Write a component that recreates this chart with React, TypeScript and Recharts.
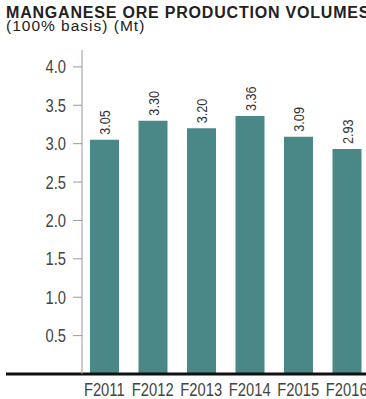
import { BarChart, Bar, XAxis, YAxis, LabelList, ReferenceLine } from "recharts";

const years = ["F2011", "F2012", "F2013", "F2014", "F2015", "F2016"];
const volumes = [3.05, 3.3, 3.2, 3.36, 3.09, 2.93];
const yTicks = [0.5, 1.0, 1.5, 2.0, 2.5, 3.0, 3.5, 4.0];

const data = years.map((year, i) => ({ year, value: volumes[i] }));

const sans = '"Liberation Sans", Arial, sans-serif';
const squeeze = 0.82; // no narrow face installed, so condense by hand
const teal = "#4a8787";

// rotated value label sitting just above each bar
const ValueLabel = (props: any) => {
  const { x, y, width, value } = props;
  const cx = x + width / 2;
  const ty = y - 5;
  return (
    <text
      transform={`translate(${cx}, ${ty}) rotate(-90) scale(${squeeze}, 1)`}
      dy="0.36em"
      textAnchor="start"
      fontFamily={sans}
      fontSize={15.5}
      fill="#333"
    >
      {Number(value).toFixed(2)}
    </text>
  );
};

const YTick = (props: any) => {
  const { x, y, payload } = props;
  return (
    <text
      transform={`translate(${x}, ${y}) scale(${squeeze}, 1)`}
      dy="0.36em"
      textAnchor="end"
      fontFamily={sans}
      fontSize={18}
      fill="#444"
    >
      {Number(payload.value).toFixed(1)}
    </text>
  );
};

const XTick = (props: any) => {
  const { x, y, payload } = props;
  return (
    <text
      transform={`translate(${x}, ${y}) scale(${squeeze}, 1)`}
      dy="0.71em"
      textAnchor="middle"
      fontFamily={sans}
      fontSize={18}
      fill="#444"
    >
      {payload.value}
    </text>
  );
};

// heavy baseline running across the whole figure
const Baseline = (props: any) => {
  const { y1 } = props;
  return <line x1={6} x2={366} y1={y1} y2={y1} stroke="#111" strokeWidth={3} />;
};

const App = () => {
  return (
    <div
      style={{
        position: "fixed",
        left: 0,
        top: 0,
        width: 366,
        height: 399,
        overflow: "hidden",
        background: "#fff",
        fontFamily: sans,
        color: "#222",
      }}
    >
      <div
        style={{
          position: "absolute",
          left: 6,
          top: 5,
          fontSize: 16,
          lineHeight: "16px",
          fontWeight: 700,
          letterSpacing: 0.8,
          whiteSpace: "nowrap",
          zIndex: 2,
        }}
      >
        MANGANESE ORE PRODUCTION VOLUMES
      </div>
      <div
        style={{
          position: "absolute",
          left: 6,
          top: 18,
          fontSize: 15.5,
          lineHeight: "16px",
          letterSpacing: 1,
          whiteSpace: "nowrap",
          zIndex: 2,
        }}
      >
        (100% basis) (Mt)
      </div>
      <div style={{ position: "absolute", left: 0, top: 0 }}>
        <BarChart
          width={400}
          height={399}
          data={data}
          margin={{ top: 50, right: 27, bottom: 0, left: 0 }}
        >
          <XAxis
            dataKey="year"
            height={25}
            axisLine={false}
            tickLine={false}
            tickSize={0}
            tickMargin={9}
            padding={{ left: -2, right: 2 }}
            interval={0}
            tick={XTick}
          />
          <YAxis
            width={82}
            domain={[0, 4.22]}
            ticks={yTicks}
            interval={0}
            axisLine={{ stroke: "#999" }}
            tickLine={{ stroke: "#999" }}
            tickSize={9}
            tickMargin={7}
            tick={YTick}
          />
          <Bar dataKey="value" fill={teal} barSize={29} isAnimationActive={false}>
            <LabelList dataKey="value" content={ValueLabel} />
          </Bar>
          <ReferenceLine y={0} shape={Baseline} ifOverflow="visible" />
        </BarChart>
      </div>
    </div>
  );
};

export default App;
